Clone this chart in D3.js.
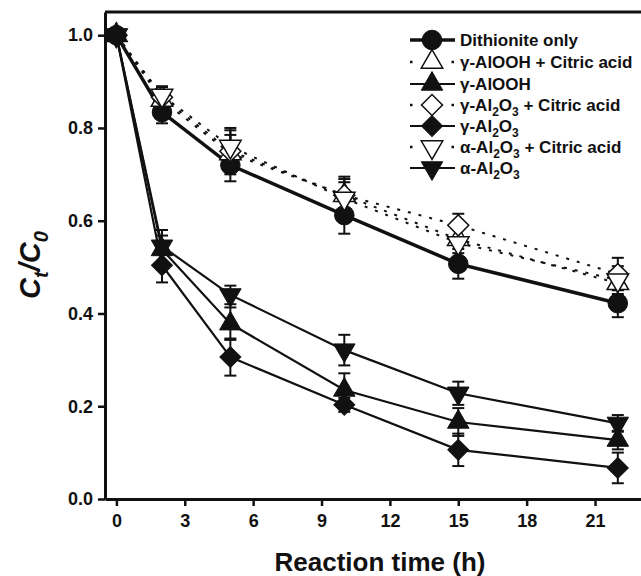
<!DOCTYPE html>
<html>
<head>
<meta charset="utf-8">
<script src="https://cdn.jsdelivr.net/npm/d3@7"></script>
<style>
  body { margin: 0; background: #fff; }
  text { font-family: "Liberation Sans", Arial, sans-serif; font-weight: bold; fill: #111; }
</style>
</head>
<body>
<div id="chart"></div>
<script>
var times = [0, 2, 5, 10, 15, 22];
var xTicks = [0, 3, 6, 9, 12, 15, 18, 21];
var yTicks = [0, 0.2, 0.4, 0.6, 0.8, 1.0];

var dithionite      = [1.0, 0.834, 0.720, 0.612, 0.507, 0.422];
var dithioniteErr   = [0, 0.024, 0.035, 0.040, 0.032, 0.030];
var alooCitric      = [1.0, 0.860, 0.745, 0.655, 0.560, 0.465];
var alooCitricErr   = [0, 0.020, 0.040, 0.035, 0.030, 0.030];
var aloo            = [1.0, 0.538, 0.378, 0.235, 0.166, 0.127];
var alooErr         = [0, 0.030, 0.035, 0.036, 0.030, 0.020];
var gAl2o3Citric    = [1.0, 0.866, 0.750, 0.655, 0.590, 0.485];
var gAl2o3CitricErr = [0, 0.022, 0.050, 0.040, 0.025, 0.035];
var gAl2o3          = [1.0, 0.504, 0.306, 0.203, 0.106, 0.067];
var gAl2o3Err       = [0, 0.037, 0.040, 0.015, 0.035, 0.033];
var aAl2o3Citric    = [1.0, 0.870, 0.760, 0.648, 0.552, 0.472];
var aAl2o3CitricErr = [0, 0.020, 0.035, 0.035, 0.030, 0.030];
var aAl2o3          = [1.0, 0.545, 0.440, 0.321, 0.228, 0.163];
var aAl2o3Err       = [0, 0.035, 0.020, 0.033, 0.025, 0.018];

// legend labels: [main, sub1, mid, sub2, tail]
var series = [
  { name: ["Dithionite only"], vals: dithionite, err: dithioniteErr, shape: "circle", open: false, dotted: false, w: 3.5 },
  { name: ["\u03b3-AlOOH + Citric acid"], vals: alooCitric, err: alooCitricErr, shape: "up", open: true, dotted: true, w: 2 },
  { name: ["\u03b3-AlOOH"], vals: aloo, err: alooErr, shape: "up", open: false, dotted: false, w: 2.2 },
  { name: ["\u03b3-Al", "2", "O", "3", " + Citric acid"], vals: gAl2o3Citric, err: gAl2o3CitricErr, shape: "diamond", open: true, dotted: true, w: 2 },
  { name: ["\u03b3-Al", "2", "O", "3"], vals: gAl2o3, err: gAl2o3Err, shape: "diamond", open: false, dotted: false, w: 2.2 },
  { name: ["\u03b1-Al", "2", "O", "3", " + Citric acid"], vals: aAl2o3Citric, err: aAl2o3CitricErr, shape: "down", open: true, dotted: true, w: 2 },
  { name: ["\u03b1-Al", "2", "O", "3"], vals: aAl2o3, err: aAl2o3Err, shape: "down", open: false, dotted: false, w: 2.2 }
];

var width = 641, height = 576;
var x = d3.scaleLinear().domain([-0.5, 23.5]).range([105, 652]);
var y = d3.scaleLinear().domain([0, 1.05]).range([499, 12]);

var svg = d3.select("#chart").append("svg")
  .attr("width", width).attr("height", height);

function symPath(shape) {
  if (shape === "circle") return d3.symbol(d3.symbolCircle, 300)();
  if (shape === "diamond") return d3.symbol(d3.symbolSquare, 220)();
  return d3.symbol(d3.symbolTriangle, 200)();
}
function symRot(shape) {
  if (shape === "diamond") return 45;
  if (shape === "down") return 180;
  return 0;
}

// lines
var line = d3.line().x(function(d) { return x(d[0]); }).y(function(d) { return y(d[1]); });
series.forEach(function(s) {
  svg.append("path")
    .datum(times.map(function(t, i) { return [t, s.vals[i]]; }))
    .attr("d", line)
    .attr("fill", "none")
    .attr("stroke", "#111")
    .attr("stroke-width", s.w)
    .attr("stroke-dasharray", s.dotted ? "3,8" : null);
});

// error bars
series.forEach(function(s) {
  times.forEach(function(t, i) {
    if (!s.err[i]) return;
    var cx = x(t), y1 = y(s.vals[i] + s.err[i]), y2 = y(s.vals[i] - s.err[i]);
    var g = svg.append("g").attr("stroke", "#111").attr("stroke-width", 2);
    g.append("line").attr("x1", cx).attr("x2", cx).attr("y1", y1).attr("y2", y2);
    g.append("line").attr("x1", cx - 6).attr("x2", cx + 6).attr("y1", y1).attr("y2", y1);
    g.append("line").attr("x1", cx - 6).attr("x2", cx + 6).attr("y1", y2).attr("y2", y2);
  });
});

// markers
series.forEach(function(s) {
  svg.append("g").selectAll("path")
    .data(times.map(function(t, i) { return [t, s.vals[i]]; }))
    .enter().append("path")
    .attr("d", symPath(s.shape))
    .attr("transform", function(d) {
      return "translate(" + x(d[0]) + "," + y(d[1]) + ") rotate(" + symRot(s.shape) + ")";
    })
    .attr("fill", s.open ? "#fff" : "#111")
    .attr("stroke", "#111")
    .attr("stroke-width", s.open ? 1.5 : 1);
});

// axes
var xAxis = svg.append("g")
  .attr("transform", "translate(0,499)")
  .call(d3.axisBottom(x).tickValues(xTicks).tickSize(7).tickPadding(8).tickSizeOuter(0));
var yAxis = svg.append("g")
  .attr("transform", "translate(105,0)")
  .call(d3.axisLeft(y).tickValues(yTicks).tickFormat(d3.format(".1f")).tickSize(7).tickPadding(5).tickSizeOuter(0));
[xAxis, yAxis].forEach(function(a) {
  a.select(".domain").attr("stroke", "#111").attr("stroke-width", 3);
  a.selectAll(".tick line").attr("stroke", "#111").attr("stroke-width", 2.5);
  a.selectAll(".tick text").style("font-size", "18px").style("font-weight", "bold").attr("fill", "#111");
});
// top frame
svg.append("line").attr("x1", 105).attr("x2", 652).attr("y1", 12).attr("y2", 12)
  .attr("stroke", "#111").attr("stroke-width", 3);

// axis titles
svg.append("text").attr("x", 380).attr("y", 571).attr("text-anchor", "middle")
  .style("font-size", "26px").text("Reaction time (h)");
var yt = svg.append("text").attr("transform", "translate(40,265) rotate(-90)")
  .attr("text-anchor", "middle").style("font-size", "29px").style("font-style", "italic");
yt.append("tspan").text("C");
yt.append("tspan").attr("dy", 8).style("font-size", "20px").text("t");
yt.append("tspan").attr("dy", -8).text("/C");
yt.append("tspan").attr("dy", 8).style("font-size", "20px").text("0");

// legend
var legY = [40, 62, 84, 105, 126, 147, 168];
series.forEach(function(s, i) {
  var ly = legY[i];
  svg.append("line").attr("x1", 410).attr("x2", 455).attr("y1", ly).attr("y2", ly)
    .attr("stroke", "#111").attr("stroke-width", s.dotted ? 2.5 : s.w)
    .attr("stroke-dasharray", s.dotted ? "2.5,39" : null);
  svg.append("path").attr("d", symPath(s.shape))
    .attr("transform", "translate(432," + ly + ") rotate(" + symRot(s.shape) + ")")
    .attr("fill", s.open ? "#fff" : "#111")
    .attr("stroke", "#111").attr("stroke-width", s.open ? 1.5 : 1);
  var t = svg.append("text").attr("x", 460).attr("y", ly + 6).style("font-size", "17px");
  t.append("tspan").text(s.name[0]);
  if (s.name.length > 1) {
    t.append("tspan").attr("dy", 5).style("font-size", "12px").text(s.name[1]);
    t.append("tspan").attr("dy", -5).text(s.name[2]);
    t.append("tspan").attr("dy", 5).style("font-size", "12px").text(s.name[3]);
    if (s.name[4]) t.append("tspan").attr("dy", -5).text(s.name[4]);
  }
});
</script>
</body>
</html>
